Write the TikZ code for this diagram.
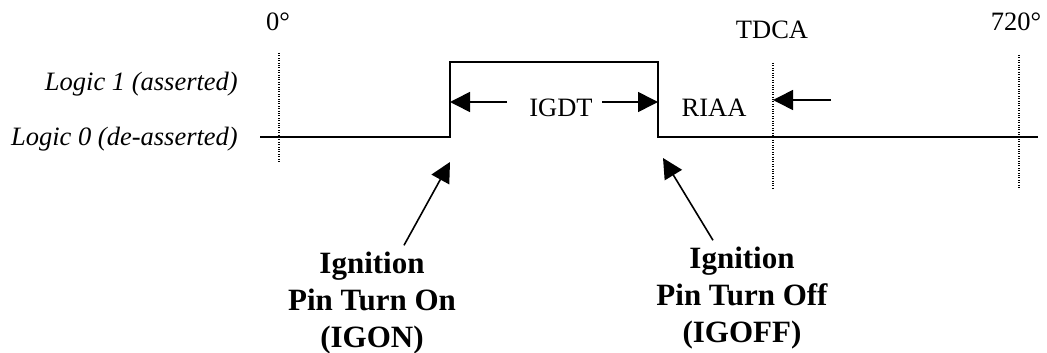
\documentclass[tikz,border=0pt]{standalone}
\usepackage{fontspec}
\setmainfont{Liberation Serif}
\usetikzlibrary{arrows.meta}
\begin{document}
\begin{tikzpicture}[x=1pt,y=-1pt,
  every node/.style={inner sep=0pt,font=\fontsize{26.5}{30}\selectfont},
  level/.style={anchor=base east,font=\fontsize{26.5}{30}\selectfont\itshape},
  event/.style={align=center,font=\fontsize{31}{37}\selectfont\bfseries},
  wave/.style={line width=2pt},
  mark line/.style={line width=1.2pt,dash pattern=on 1pt off 1.4pt},
  pointer/.style={-{Triangle[length=20pt,width=20pt]},line width=1.6pt}]
  \useasboundingbox (0,0) rectangle (1047,353);
  % angle labels
  \node[anchor=base] (zero) at (278,31) {0°};
  \node[anchor=base] (tdca) at (772,39) {TDCA};
  \node[anchor=base] (full) at (1016,31) {720°};
  % logic levels
  \node[level] (one) at (238,91) {Logic 1 (asserted)};
  \node[level] (low) at (238,145) {Logic 0 (de-asserted)};
  % waveform
  \coordinate (start) at (260,137);
  \coordinate (on) at (450,137);
  \coordinate (onhi) at (450,62);
  \coordinate (offhi) at (658,62);
  \coordinate (off) at (658,137);
  \coordinate (stop) at (1038,137);
  \draw[wave] (start) -- (on) -- (onhi) -- (offhi) -- (off) -- (stop);
  % marker lines
  \coordinate (zerotop) at (279,53);
  \coordinate (zerobot) at (279,163);
  \coordinate (tdcatop) at (773,63);
  \coordinate (tdcabot) at (773,188);
  \coordinate (fulltop) at (1019,55);
  \coordinate (fullbot) at (1019,188);
  \draw[mark line] (zerotop) -- (zerobot);
  \draw[mark line] (tdcatop) -- (tdcabot);
  \draw[mark line] (fulltop) -- (fullbot);
  % durations
  \node[anchor=base] (igdt) at (561,117) {IGDT};
  \node[anchor=base] (riaa) at (714,117) {RIAA};
  \coordinate (igdtl) at (507,102);
  \coordinate (igdtr) at (602,102);
  \coordinate (riaar) at (831,100);
  \draw[pointer] (igdtl) -- (onhi |- igdtl);
  \draw[pointer] (igdtr) -- (offhi |- igdtr);
  \draw[pointer] (riaar) -- (tdcatop |- riaar);
  % events
  \node[event,anchor=base] (igon) at (372,347) {Ignition\\Pin Turn On\\(IGON)};
  \node[event,anchor=base] (igoff) at (742,342) {Ignition\\Pin Turn Off\\(IGOFF)};
  \coordinate (ontip) at (450,162);
  \coordinate (offtip) at (663,158);
  \draw[pointer] ([xshift=32pt,yshift=6pt]igon.north) -- (ontip);
  \draw[pointer] ([xshift=-29pt,yshift=6pt]igoff.north) -- (offtip);
\end{tikzpicture}
\end{document}
